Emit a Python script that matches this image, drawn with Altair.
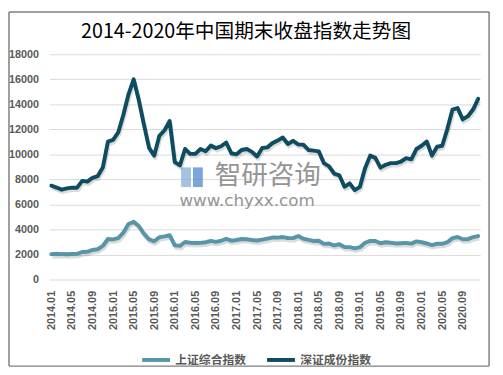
import altair as alt
import pandas as pd

months = [f"{y}.{m:02d}" for y in range(2014, 2021) for m in range(1, 13)]
tick_labels = months[::4]
series_names = ["上证综合指数", "深证成份指数"]
series_colors = ["#5796a8", "#0e4d61"]
title_text = "2014-2020年中国期末收盘指数走势图"

sh_values = [
    2033, 2056, 2033, 2026, 2039, 2048, 2202, 2217, 2364, 2420, 2683, 3235,
    3210, 3310, 3748, 4441, 4612, 4277, 3664, 3206, 3053, 3383, 3445, 3539,
    2738, 2688, 3004, 2938, 2917, 2930, 2979, 3085, 3005, 3100, 3250, 3104,
    3159, 3242, 3223, 3155, 3117, 3192, 3273, 3361, 3349, 3393, 3317, 3307,
    3481, 3259, 3169, 3082, 3095, 2847, 2876, 2725, 2821, 2603, 2588, 2494,
    2585, 2941, 3091, 3078, 2899, 2979, 2933, 2886, 2905, 2929, 2871, 3050,
    2977, 2880, 2750, 2860, 2852, 2985, 3310, 3396, 3218, 3225, 3392, 3473,
]
sz_values = [
    7500, 7350, 7180, 7280, 7340, 7340, 7880, 7820, 8130, 8260, 8950, 11015,
    11160, 11750, 13160, 14800, 16000, 14338, 12370, 10520, 9900, 11480, 11930, 12660,
    9380, 9120, 10430, 10040, 10040, 10430, 10250, 10700, 10500, 10650, 10950, 10090,
    10000, 10350, 10430, 10200, 9830, 10510, 10560, 10900, 11100, 11350, 10830, 11080,
    10800, 10770, 10350, 10300, 10240, 9300, 9040, 8470, 8330, 7410, 7680, 7150,
    7410, 8900, 9900, 9720, 8940, 9170, 9300, 9300, 9430, 9700, 9600, 10430,
    10690, 11030, 9900, 10610, 10690, 12020, 13580, 13700, 12790, 13050, 13580, 14440,
]
y_ticks = list(range(0, 18001, 2000))

n = len(months)
df = pd.DataFrame({
    "month": months * 2,
    "series": [series_names[0]] * n + [series_names[1]] * n,
    "value": sh_values + sz_values,
})

W, H = 438, 229
x_enc = alt.X(
    "month:O", sort=months, title=None,
    scale=alt.Scale(type="point", padding=0.4),
    axis=alt.Axis(values=tick_labels, labelAngle=-90, labelPadding=11, ticks=False,
                  domain=False, grid=False, labelFontSize=11, labelFontWeight="bold",
                  labelColor="#595959", labelFont="Liberation Sans"),
)
y_enc = alt.Y(
    "value:Q", title=None,
    scale=alt.Scale(domain=[0, 18000], nice=False),
    axis=alt.Axis(values=y_ticks, format="d", ticks=False, domain=False, grid=True,
                  gridColor="#d9d9d9", labelPadding=11, labelFontSize=11,
                  labelFontWeight="bold", labelColor="#595959", labelFont="Liberation Sans"),
)

base = alt.Chart(df)

shadow = base.mark_line(color="#000000", opacity=0.14, strokeWidth=4, xOffset=1, yOffset=2.5,
                        strokeJoin="round").encode(x=x_enc, y=y_enc, detail="series:N")

lines = base.mark_line(strokeWidth=4, strokeJoin="round", strokeCap="round").encode(
    x=x_enc, y=y_enc,
    color=alt.Color("series:N", sort=series_names,
                    scale=alt.Scale(domain=series_names, range=series_colors),
                    legend=alt.Legend(orient="none", legendX=92, legendY=294, direction="horizontal",
                                      title=None, symbolType="stroke", symbolStrokeWidth=4,
                                      symbolSize=800, labelFontSize=12, labelFont="Noto Sans CJK SC",
                                      labelColor="#595959", labelFontWeight="bold",
                                      columnPadding=12, labelOffset=3)),
)

one = alt.Data(values=[{"a": 1}])
title_mark = alt.Chart(one).mark_text(text=title_text, font="Noto Sans CJK SC", fontSize=20,
                                      color="#000000", baseline="middle").encode(
    x=alt.value(200), y=alt.value(-22))
wm1 = alt.Chart(one).mark_text(text="智研咨询", font="Noto Sans CJK SC", fontSize=27,
                               color="#8a8a8a", opacity=0.9).encode(x=alt.value(222), y=alt.value(124))
wm2 = alt.Chart(one).mark_text(text="www.chyxx.com", font="DejaVu Sans", fontSize=17,
                               color="#8a8a8a", opacity=0.9).encode(
    x=alt.value(201), y=alt.value(149))
logo1 = alt.Chart(one).mark_rect(color="#8fb3dc", opacity=0.8).encode(
    x=alt.value(134), x2=alt.value(144), y=alt.value(115), y2=alt.value(135))
logo2 = alt.Chart(one).mark_rect(color="#5b8fd0", opacity=0.8).encode(
    x=alt.value(146), x2=alt.value(156), y=alt.value(115), y2=alt.value(135))

bx0, bx1, by0, by1 = -41, 447, -43, 317
b_top = alt.Chart(one).mark_rule(color="#7f7f7f", strokeWidth=1.5).encode(
    x=alt.value(bx0), x2=alt.value(bx1), y=alt.value(by0))
b_bot = alt.Chart(one).mark_rule(color="#7f7f7f", strokeWidth=1.5).encode(
    x=alt.value(bx0), x2=alt.value(bx1), y=alt.value(by1))
b_left = alt.Chart(one).mark_rule(color="#7f7f7f", strokeWidth=1.5).encode(
    x=alt.value(bx0), y=alt.value(by0), y2=alt.value(by1))
b_right = alt.Chart(one).mark_rule(color="#7f7f7f", strokeWidth=1.5).encode(
    x=alt.value(bx1), y=alt.value(by0), y2=alt.value(by1))

chart = alt.layer(b_top, b_bot, b_left, b_right, title_mark, wm1, wm2, logo1, logo2,
                  shadow, lines).properties(
    width=W, height=H,
    autosize=alt.AutoSizeParams(type="none"),
    padding={"left": 42, "top": 44, "right": 15, "bottom": 92},
).configure_view(stroke=None)

chart.save("out.html", embed_options={"renderer": "svg", "actions": False})
